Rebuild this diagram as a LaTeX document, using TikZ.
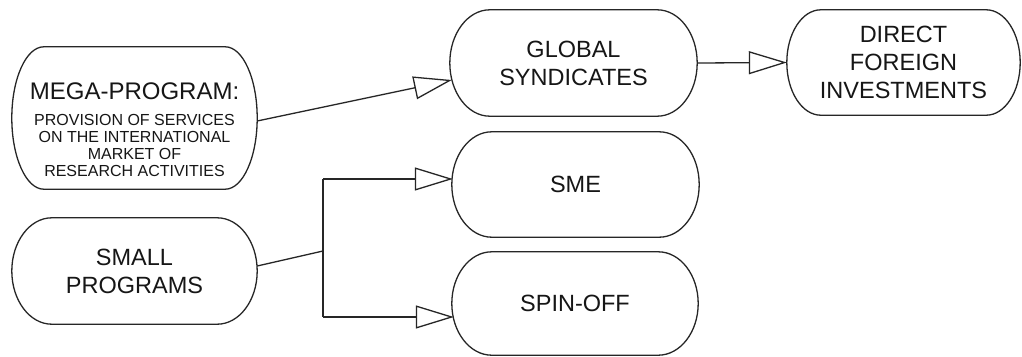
\documentclass[tikz,border=0pt]{standalone}
\usepackage{fontspec}
\setmainfont{Liberation Sans}
\usetikzlibrary{arrows.meta,calc}
\definecolor{ln}{HTML}{262626}
\definecolor{tx}{HTML}{161616}
\begin{document}
\begin{tikzpicture}[x=1pt,y=-1pt,
  box/.style={rectangle,inner sep=0pt,align=center,text=tx,
    font=\fontsize{23.5}{28}\selectfont},
  conn/.style={draw=ln,line width=1.3pt},
  arr/.style={conn,-{Triangle[open,length=38pt,width=23pt,line width=1.3pt]}}]
\useasboundingbox[fill=white] (0,0) rectangle (1022,356);
\node[box,minimum width=245,minimum height=142] (mega) at (134.5,118) {};
\node[box,font=\fontsize{16}{17}\selectfont] (megat) at (134.5,130)
  {{\fontsize{24}{26}\selectfont MEGA-PROGRAM:}\\[9pt]PROVISION OF SERVICES\\ON THE INTERNATIONAL\\MARKET OF\\RESEARCH ACTIVITIES};
\node[box,minimum width=245,minimum height=106] (small) at (134.5,271) {SMALL\\PROGRAMS};
\node[box,minimum width=247,minimum height=106] (glob) at (573.5,63) {GLOBAL\\SYNDICATES};
\node[box,minimum width=233,minimum height=105] (dfi) at (903.5,62.5) {DIRECT\\FOREIGN\\INVESTMENTS};
\node[box,minimum width=247,minimum height=105] (sme) at (575.5,184.5) {SME};
\node[box,minimum width=246,minimum height=103] (spin) at (575,303.5) {SPIN-OFF};
\foreach \nm/\r in {mega/32pt,small/40pt,glob/40pt,dfi/34pt,sme/40pt,spin/40pt}{
  \draw[ln,line width=1.3pt] let \p1=(\nm.north east), \p2=(\nm.south west) in
    (\x2+\r,\y1) -- (\x1-\r,\y1)
    arc[start angle=90,end angle=-90,x radius=\r,y radius={(\y1-\y2)/2}]
    -- (\x2+\r,\y2)
    arc[start angle=270,end angle=90,x radius=\r,y radius={(\y1-\y2)/2}]
    -- cycle;
}
\coordinate (jt) at (323,179);
\coordinate (jm) at (323,251);
\coordinate (jb) at (323,317);
\draw[arr] ($(mega.east)+(0,3)$) -- ($(glob.west)+(2,17)$);
\draw[arr] (glob.east) -- (dfi.west);
\draw[conn] ($(small.east)+(0,-5)$) -- (jm);
\draw[conn] (jt) -- (jb);
\draw[arr] (jt) -- ($(sme.west)+(1,-5.5)$);
\draw[arr] (jb) -- ($(spin.west)+(2,13.5)$);
\end{tikzpicture}
\end{document}
